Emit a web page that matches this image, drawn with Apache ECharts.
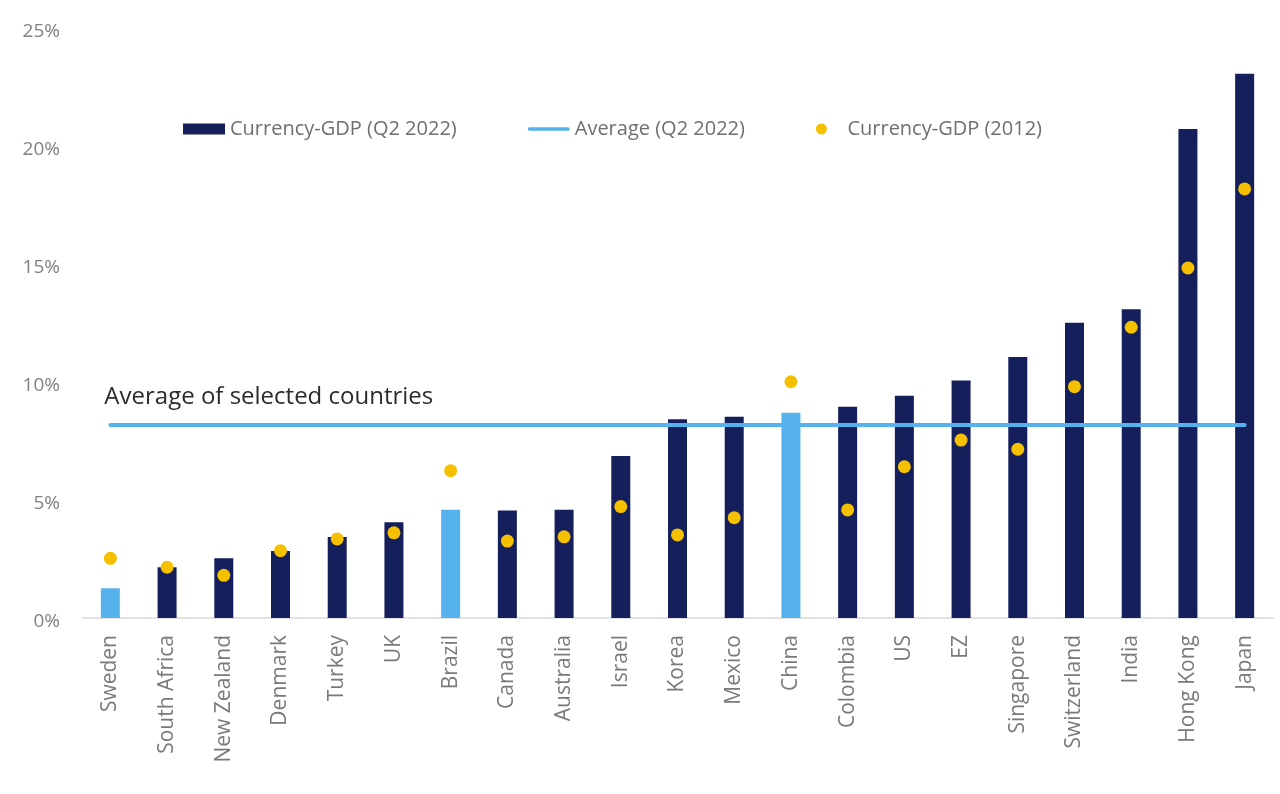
<!DOCTYPE html>
<html>
<head>
<meta charset="utf-8">
<script src="https://cdn.jsdelivr.net/npm/echarts@6/dist/echarts.min.js"></script>
<style>
html,body{margin:0;padding:0;background:#fff;}
#chart{width:1280px;height:794px;}
</style>
</head>
<body>
<div id="chart"></div>
<script>
const categories = ['Sweden','South Africa','New Zealand','Denmark','Turkey','UK','Brazil','Canada','Australia','Israel','Korea','Mexico','China','Colombia','US','EZ','Singapore','Switzerland','India','Hong Kong','Japan'];
const currencyGDP2022 = [1.26,2.15,2.53,2.84,3.43,4.06,4.59,4.56,4.59,6.86,8.42,8.53,8.70,8.95,9.42,10.06,11.06,12.51,13.08,20.72,23.06];
const currencyGDP2012 = [2.53,2.15,1.81,2.85,3.35,3.61,6.24,3.26,3.44,4.72,3.52,4.25,10.01,4.58,6.41,7.54,7.15,9.80,12.32,14.83,18.18];
const average2022 = 8.18;
const highlighted = ['Sweden','Brazil','China'];
const yTicks = [0,5,10,15,20,25];
const seriesNames = ['Currency-GDP (Q2 2022)','Average (Q2 2022)','Currency-GDP (2012)'];
const annotationText = 'Average of selected countries';

const NAVY = '#141f5c';
const LIGHT = '#55b2ec';
const GOLD = '#f5c000';
const FONT = '"Open Sans", "Noto Sans", sans-serif';

const chart = echarts.init(document.getElementById('chart'), null, {renderer:'canvas'});

const avgData = categories.map(() => average2022);

chart.setOption({
  animation:false,
  backgroundColor:'#ffffff',
  grid:{left:82,right:7,top:28,bottom:176,containLabel:false},
  legend:{
    left:178, top:114,
    itemGap:71, itemWidth:42, itemHeight:11,
    textStyle:{fontFamily:FONT,fontSize:20,color:'#6f6f6f'},
    data:[
      {name:seriesNames[0],icon:'rect',itemStyle:{color:NAVY}},
      {name:seriesNames[1],icon:'path://M0,0 L0,0 Z M42,11 L42,11 Z M1,3.7 L41,3.7 A1.8,1.8 0 0 1 41,7.3 L1,7.3 A1.8,1.8 0 0 1 1,3.7 Z',itemStyle:{color:LIGHT}},
      {name:seriesNames[2],icon:'circle',itemStyle:{color:GOLD}}
    ]
  },
  xAxis:{
    type:'category',
    data:categories,
    axisLine:{show:true,lineStyle:{color:'#d9d9d9',width:1.5}},
    axisTick:{show:false},
    axisLabel:{rotate:90,margin:17,fontFamily:FONT,fontSize:21,color:'#7a7a7a',interval:0}
  },
  yAxis:{
    type:'value',
    min:yTicks[0], max:yTicks[yTicks.length-1], interval:5,
    splitLine:{show:false},
    axisLine:{show:false},
    axisTick:{show:false},
    axisLabel:{
      formatter:'{a|{value}%}',margin:22,
      rich:{a:{fontFamily:FONT,fontSize:19,color:'#808080',padding:[8,0,0,0]}}
    }
  },
  series:[
    {
      name:seriesNames[0],
      type:'bar',
      barWidth:19,
      itemStyle:{color:NAVY},
      data:currencyGDP2022.map((v,i)=>({value:v,itemStyle:{color: highlighted.includes(categories[i]) ? LIGHT : NAVY}})),
      z:2
    },
    {
      name:seriesNames[1],
      type:'line',
      data:avgData,
      symbol:'none',
      showSymbol:false,
      lineStyle:{color:LIGHT,width:4,cap:'round'},
      itemStyle:{color:LIGHT},
      z:3,
      markPoint:{
        symbol:'circle',symbolSize:0,
        data:[{coord:[0,average2022],value:annotationText}],
        label:{show:true,position:'right',distance:0,offset:[-6,-28],formatter:annotationText,fontFamily:FONT,fontSize:24,color:'#2b2b2b'}
      }
    },
    {
      name:seriesNames[2],
      type:'scatter',
      data:currencyGDP2012,
      symbol:'circle',
      symbolSize:13,
      itemStyle:{color:GOLD,opacity:1},
      z:4
    }
  ]
});
</script>
</body>
</html>
